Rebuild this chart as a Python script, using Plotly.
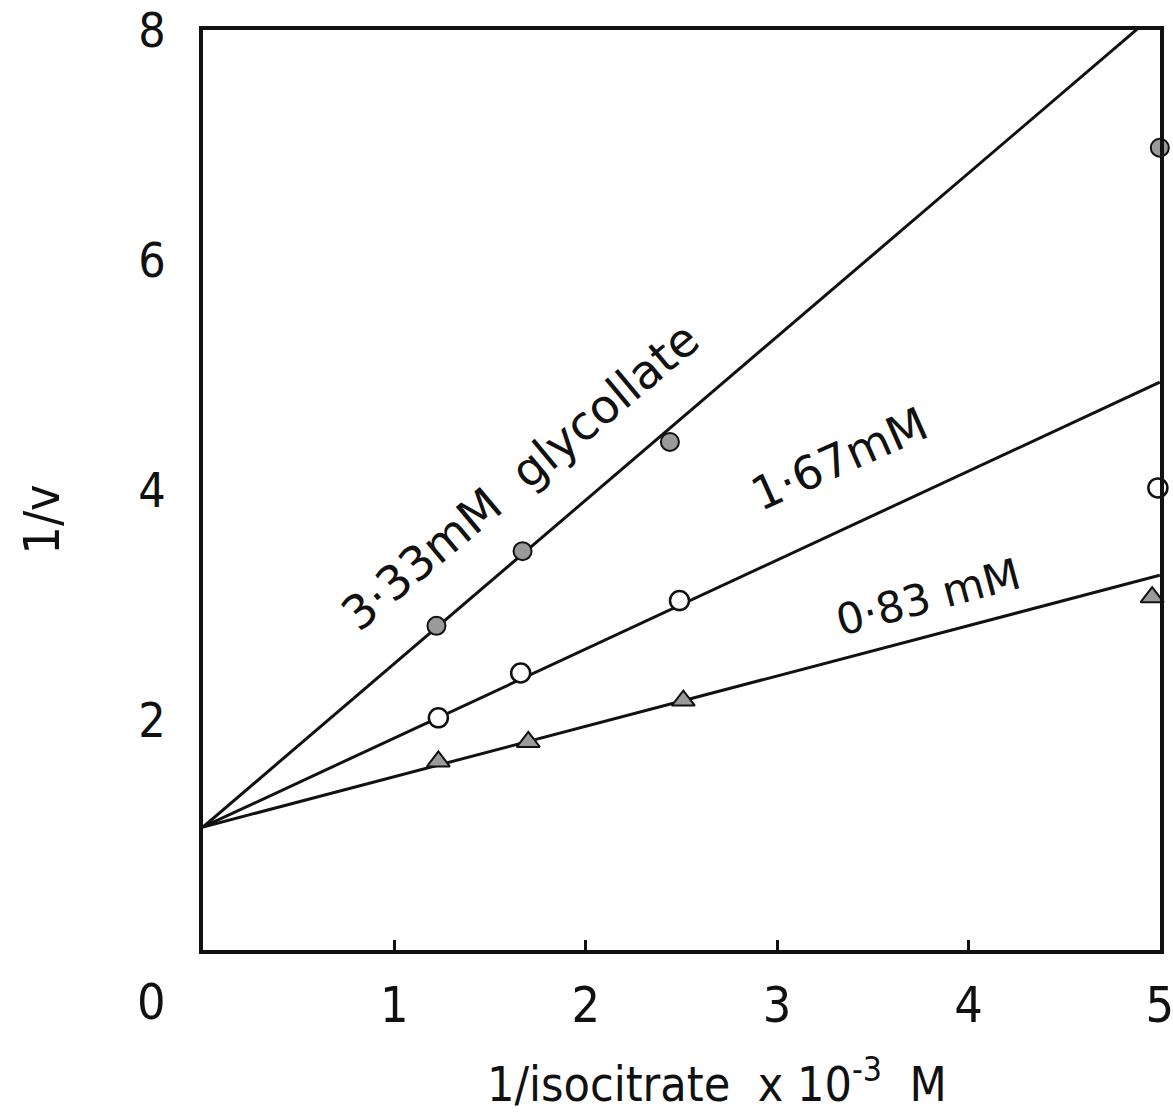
import plotly.graph_objects as go

# ---- data ----
series_names = ["3·33mM  glycollate", "1·67mM", "0·83 mM"]

x_333 = [1.22, 1.67, 2.44, 5.0]
y_333 = [2.82, 3.47, 4.42, 6.98]

x_167 = [1.23, 1.66, 2.49, 4.99]
y_167 = [2.02, 2.41, 3.04, 4.02]

x_083 = [1.23, 1.70, 2.51, 4.96]
y_083 = [1.64, 1.81, 2.17, 3.07]

# fitted straight lines (value at x=0 and at x=5)
line_x = [0.0, 5.0]
line_333 = [1.07, 8.18]
line_167 = [1.07, 4.94]
line_083 = [1.07, 3.26]

x_ticks = [1, 2, 3, 4, 5]
y_ticks = [2, 4, 6, 8]

FONT_C = "DejaVu Sans Condensed, DejaVu Sans, sans-serif"
FONT = "DejaVu Sans, sans-serif"
INK = "#111111"

fig = go.Figure()

for ly in (line_333, line_167, line_083):
    fig.add_trace(go.Scatter(x=line_x, y=ly, mode="lines",
                             line=dict(color=INK, width=3),
                             showlegend=False, hoverinfo="skip"))

fig.add_trace(go.Scatter(x=x_333, y=y_333, mode="markers", name=series_names[0],
                         cliponaxis=False, showlegend=False,
                         marker=dict(symbol="circle", size=18, color="#9a9a9a",
                                     line=dict(color=INK, width=2))))
fig.add_trace(go.Scatter(x=x_167, y=y_167, mode="markers", name=series_names[1],
                         cliponaxis=False, showlegend=False,
                         marker=dict(symbol="circle", size=19, color="white",
                                     line=dict(color=INK, width=2.5))))
fig.add_trace(go.Scatter(x=x_083, y=y_083, mode="markers", name=series_names[2],
                         cliponaxis=False, showlegend=False,
                         marker=dict(symbol="triangle-up", size=20, color="#9a9a9a",
                                     line=dict(color=INK, width=2))))

fig.update_layout(
    width=1173, height=1114,
    margin=dict(l=203, r=13, t=30, b=164),
    paper_bgcolor="white", plot_bgcolor="white",
    font=dict(family=FONT_C, size=50, color=INK),
    showlegend=False,
)

fig.update_xaxes(range=[0, 5.001], tickvals=x_ticks, ticktext=[str(v) for v in x_ticks],
                 ticks="inside", ticklen=10, tickwidth=2.5, tickcolor=INK,
                 showline=True, mirror=True, linewidth=3.5, linecolor=INK,
                 showgrid=False, zeroline=False, ticklabelstandoff=8,
                 ticklabeloverflow="allow", automargin=False,
                 tickfont=dict(family=FONT_C, size=50, color=INK))
fig.update_yaxes(range=[0, 8.004], tickvals=y_ticks, ticktext=[str(v) for v in y_ticks],
                 ticks="", showline=True, mirror=True, linewidth=3.5, linecolor=INK,
                 showgrid=False, zeroline=False, ticklabelstandoff=24,
                 ticklabeloverflow="allow", automargin=False,
                 tickfont=dict(family=FONT_C, size=48, color=INK))

common = dict(showarrow=False, xanchor="center", yanchor="middle")
annotations = [
    dict(text="0", x=-0.0533, y=-0.0563, xref="paper", yref="paper",
         font=dict(family=FONT_C, size=50), **common),
    dict(text="1/v", x=-0.168, y=0.468, xref="paper", yref="paper",
         textangle=-90, font=dict(family=FONT_C, size=50), **common),
    dict(text="1/isocitrate  x 10<sup>-3</sup>  M", x=0.537, y=-0.142,
         xref="paper", yref="paper", font=dict(family=FONT_C, size=48), **common),
    dict(text=series_names[0], x=1.655, y=4.12, xref="x", yref="y",
         textangle=-40, font=dict(family=FONT, size=47), **common),
    dict(text=series_names[1], x=3.325, y=4.27, xref="x", yref="y",
         textangle=-24, font=dict(family=FONT, size=46), **common),
    dict(text=series_names[2], x=3.79, y=3.07, xref="x", yref="y",
         textangle=-15, font=dict(family=FONT, size=43), **common),
]
fig.update_layout(annotations=annotations)

fig.write_html("out.html")
